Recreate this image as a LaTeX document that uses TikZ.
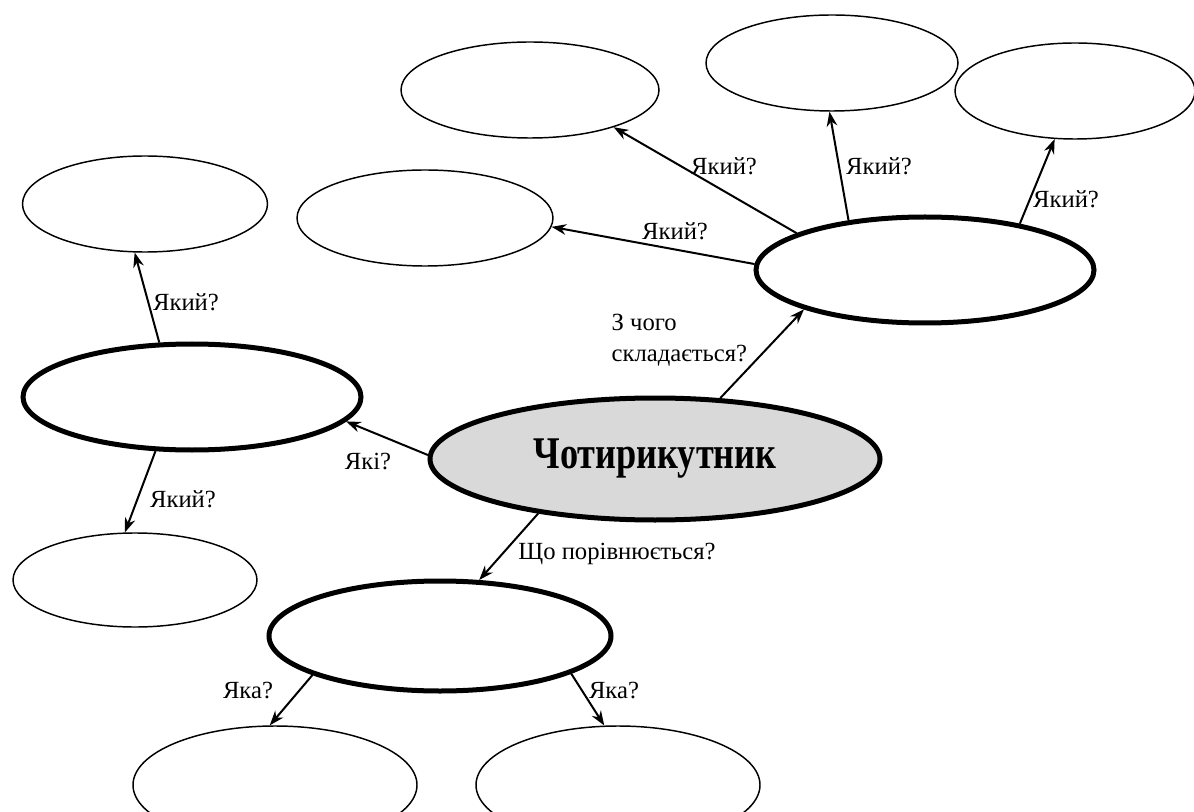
\documentclass[tikz,border=0pt]{standalone}
\usepackage{fontspec}
\setmainfont{Liberation Serif}
\newfontfamily\titlefont[FakeStretch=0.8]{Liberation Serif}
\usepackage{tikz}
\usetikzlibrary{shapes.geometric, arrows.meta}
\usepackage{xcolor}

\tikzset{
  bigoval/.style={draw, ellipse, line width=3.75pt, inner sep=0pt, minimum width=253.5pt, minimum height=79.5pt},
  smalloval/.style={draw, ellipse, line width=1.1pt, inner sep=0pt, minimum width=190pt, minimum height=72pt},
  arr/.style={line width=1.5pt, -{Stealth[length=11pt,width=8pt]}},
  ask/.style={inner sep=1pt, font=\fontsize{18.5}{23}\selectfont}
}

\begin{document}
\begin{tikzpicture}[x=0.75pt,y=0.75pt,yscale=-1,xscale=1]
\useasboundingbox (0,0) rectangle (1194,812);

%Shape: Ellipse [id:ctr]
\node [bigoval, fill={rgb, 255:red, 217; green, 217; blue, 217 }, minimum width=337.5pt, minimum height=91.5pt] (ctr) at (655,459) {\titlefont\bfseries\fontsize{34}{38}\selectfont Чотирикутник};
%Shape: Ellipse [id:upr]
\node [bigoval] (upr) at (925,270) {};
%Shape: Ellipse [id:lft]
\node [bigoval] (lft) at (192,397) {};
%Shape: Ellipse [id:bot]
\node [bigoval, minimum width=256.5pt, minimum height=82.5pt] (bot) at (440,636) {};

%Shape: Ellipse [id:top1]
\node [smalloval, minimum width=193.5pt] (top1) at (530,90) {};
%Shape: Ellipse [id:top2]
\node [smalloval, minimum width=189pt] (top2) at (832,63) {};
%Shape: Ellipse [id:top3]
\node [smalloval, minimum width=180pt] (top3) at (1075,91) {};
%Shape: Ellipse [id:mid1]
\node [smalloval, minimum width=192pt] (mid1) at (425,218) {};
%Shape: Ellipse [id:lft1]
\node [smalloval, minimum width=183.75pt] (lft1) at (145,204) {};
%Shape: Ellipse [id:lft2]
\node [smalloval, minimum width=183pt, minimum height=70.5pt] (lft2) at (135,580) {};
%Shape: Ellipse [id:bot1]
\node [smalloval, minimum width=213pt, minimum height=88.5pt] (bot1) at (275,785) {};
%Shape: Ellipse [id:bot2]
\node [smalloval, minimum width=213pt, minimum height=88.5pt] (bot2) at (618,785) {};

%Straight Lines
\draw [arr] (ctr.43) -- (upr.198) ;
\draw [arr] (upr.178) -- (mid1.-4) ;
\draw [arr] (upr.164) -- (top1.-24) ;
\draw [arr] (upr.147) -- (top2.267) ;
\draw [arr] (upr.26) -- (top3.247) ;
\draw [arr] (ctr.179) -- (lft.-9) ;
\draw [arr] (lft.121) -- (lft1.258) ;
\draw [arr] (lft.236) -- (lft2.102) ;
\draw [arr] (ctr.205) -- (bot.55) ;
\draw [arr] (bot.197) -- (bot1.95) ;
\draw [arr] (bot.-16) -- (bot2.103) ;

%Text
\node [ask, anchor=west, align=left] (qparts) at (610,340) {З чого\\складається?};
\node [ask] (qmid1) at (675,231) {Який?};
\node [ask] (qtop1) at (724,166) {Який?};
\node [ask] (qtop2) at (879,166) {Який?};
\node [ask] (qtop3) at (1066,199) {Який?};
\node [ask] (qlft) at (368,462) {Які?};
\node [ask] (qlft1) at (186,302) {Який?};
\node [ask] (qlft2) at (183,499) {Який?};
\node [ask] (qbot) at (617,554) {Що порівнюється?};
\node [ask] (qbot1) at (248,691) {Яка?};
\node [ask] (qbot2) at (614,691) {Яка?};

\end{tikzpicture}
\end{document}
